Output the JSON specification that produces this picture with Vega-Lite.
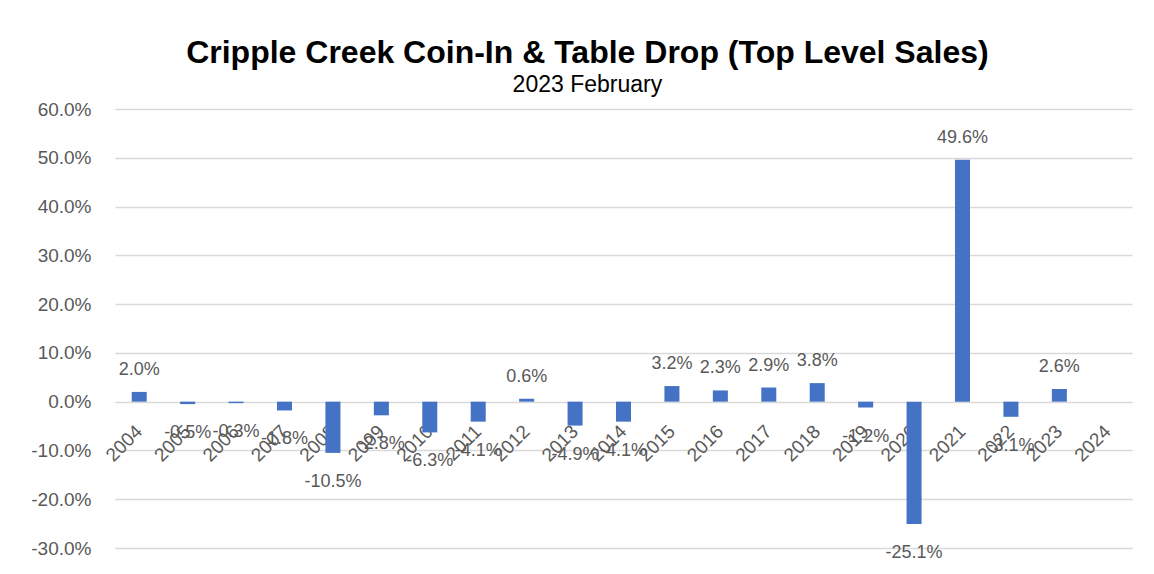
{
  "$schema": "https://vega.github.io/schema/vega-lite/v6.json",
  "autosize": {"type": "none"},
  "width": 1017,
  "height": 439,
  "padding": {"left": 115, "top": 109, "right": 22, "bottom": 26},
  "background": "white",
  "config": {
    "view": {"stroke": null},
    "font": "Liberation Sans",
    "locale": {"number": {"decimal": ".", "thousands": ",", "grouping": [3], "currency": ["$", ""], "minus": "-"}}
  },
  "title": {
    "text": "Cripple Creek Coin-In & Table Drop (Top Level Sales)",
    "subtitle": "2023 February",
    "frame": "bounds",
    "anchor": "middle",
    "dx": 6,
    "fontSize": 32,
    "fontWeight": "bold",
    "color": "#000000",
    "subtitleFontSize": 23,
    "subtitleColor": "#000000",
    "subtitlePadding": 4,
    "offset": 2
  },
  "data": {
    "values": [
      {"year": "2004", "value": 0.020},
      {"year": "2005", "value": -0.005},
      {"year": "2006", "value": -0.003},
      {"year": "2007", "value": -0.018},
      {"year": "2008", "value": -0.105},
      {"year": "2009", "value": -0.028},
      {"year": "2010", "value": -0.063},
      {"year": "2011", "value": -0.041},
      {"year": "2012", "value": 0.006},
      {"year": "2013", "value": -0.049},
      {"year": "2014", "value": -0.041},
      {"year": "2015", "value": 0.032},
      {"year": "2016", "value": 0.023},
      {"year": "2017", "value": 0.029},
      {"year": "2018", "value": 0.038},
      {"year": "2019", "value": -0.012},
      {"year": "2020", "value": -0.251},
      {"year": "2021", "value": 0.496},
      {"year": "2022", "value": -0.031},
      {"year": "2023", "value": 0.026}
    ]
  },
  "encoding": {
    "x": {
      "field": "year",
      "type": "nominal",
      "sort": null,
      "scale": {
        "domain": ["2004","2005","2006","2007","2008","2009","2010","2011","2012","2013","2014","2015","2016","2017","2018","2019","2020","2021","2022","2023","2024"],
        "paddingInner": 0.69,
        "paddingOuter": 0.345
      },
      "axis": {
        "title": null,
        "offset": -146,
        "domain": false,
        "ticks": false,
        "grid": false,
        "labelAngle": -45,
        "labelAlign": "right",
        "labelBaseline": "middle",
        "labelPadding": 26,
        "labelFontSize": 19,
        "labelColor": "#595959",
        "labelOverlap": false
      }
    }
  },
  "layer": [
    {
      "mark": {"type": "bar", "color": "#4472C4"},
      "encoding": {
        "y": {
          "field": "value",
          "type": "quantitative",
          "scale": {"domain": [-0.3, 0.6], "nice": false},
          "axis": {
            "title": null,
            "format": ".1%",
            "values": [-0.3, -0.2, -0.1, 0, 0.1, 0.2, 0.3, 0.4, 0.5, 0.6],
            "domain": false,
            "ticks": false,
            "grid": true,
            "gridColor": "#d9d9d9",
            "gridWidth": 1.5,
            "labelFontSize": 19,
            "labelColor": "#595959",
            "labelPadding": 24
          }
        }
      }
    },
    {
      "transform": [{"filter": "datum.value >= 0"}],
      "mark": {"type": "text", "baseline": "alphabetic", "dy": -17, "fontSize": 18, "color": "#595959"},
      "encoding": {
        "y": {"field": "value", "type": "quantitative"},
        "text": {"field": "value", "type": "quantitative", "format": ".1%"}
      }
    },
    {
      "transform": [{"filter": "datum.value < 0"}],
      "mark": {"type": "text", "baseline": "top", "dy": 20, "fontSize": 18, "color": "#595959"},
      "encoding": {
        "y": {"field": "value", "type": "quantitative"},
        "text": {"field": "value", "type": "quantitative", "format": ".1%"}
      }
    }
  ]
}
